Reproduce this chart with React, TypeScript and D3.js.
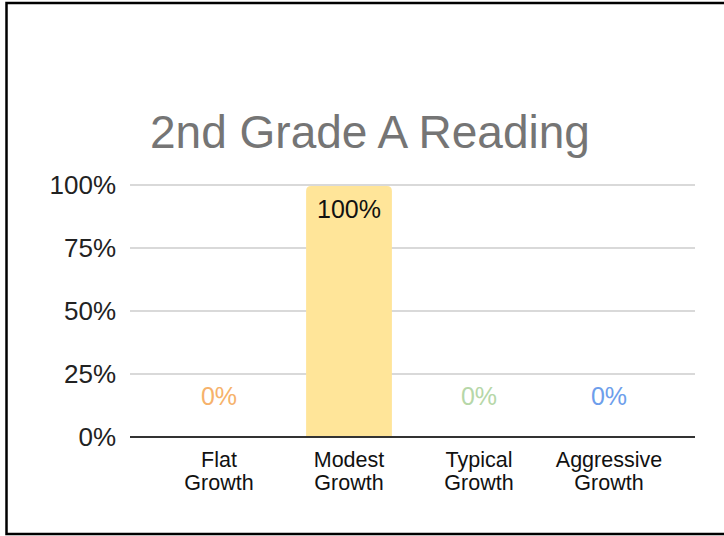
import React from "react";
import * as d3 from "d3";

const title = "2nd Grade A Reading";
const categories = ["Flat Growth", "Modest Growth", "Typical Growth", "Aggressive Growth"];
const values = [0, 100, 0, 0];
const colors = ["#F6B26B", "#FFE599", "#B6D7A8", "#6D9EEB"];
const ticks = [0, 25, 50, 75, 100];

const W = 724;
const H = 536;
const font = "'Liberation Sans', Arial, sans-serif";

export default function App() {
  // scales fitted to the plot area of the picture
  const x = d3.scaleBand<string>().domain(categories).range([154, 674]).paddingInner(0.34).paddingOuter(0.17);
  const y = d3.scaleLinear().domain([0, 100]).range([437, 185]);

  const barPath = (x0: number, y0: number, w: number, y1: number, r: number) => {
    const p = d3.path();
    p.moveTo(x0, y1);
    p.lineTo(x0, y0 + r);
    p.quadraticCurveTo(x0, y0, x0 + r, y0);
    p.lineTo(x0 + w - r, y0);
    p.quadraticCurveTo(x0 + w, y0, x0 + w, y0 + r);
    p.lineTo(x0 + w, y1);
    p.closePath();
    return p.toString();
  };

  return (
    <svg width={W} height={H} style={{ position: "absolute", left: 0, top: 0, background: "#fff" }} fontFamily={font}>
      {/* frame around the screenshot */}
      <path d={`M${W},3 L6.5,3 L6.5,534 L${W},534`} fill="none" stroke="#000" strokeWidth={2.5} />

      <text x={150} y={148} fontSize={46} fill="#757575">{title}</text>

      {/* gridlines and tick labels */}
      {ticks.map((t) => (
        <g key={t}>
          {t !== 0 && <line x1={130} x2={695} y1={y(t)} y2={y(t)} stroke="#cccccc" strokeWidth={1.5} />}
          <text x={116} y={y(t)} dy="0.36em" fontSize={26} textAnchor="end" fill="#222">{t}%</text>
        </g>
      ))}

      {/* bars */}
      {categories.map((c, i) =>
        values[i] > 0 ? (
          <path key={c} d={barPath(x(c)!, y(values[i]) + 1, x.bandwidth(), y(0), 5)} fill={colors[i]} />
        ) : null
      )}

      {/* baseline */}
      <line x1={130} x2={695} y1={y(0)} y2={y(0)} stroke="#333" strokeWidth={2} />

      {/* data labels */}
      {categories.map((c, i) => {
        const cx = x(c)! + x.bandwidth() / 2;
        const inside = values[i] > 20;
        return (
          <text
            key={c}
            x={cx}
            y={inside ? y(values[i]) + 33 : y(values[i]) - 32}
            fontSize={25}
            textAnchor="middle"
            fill={inside ? "#111" : colors[i]}
          >
            {values[i]}%
          </text>
        );
      })}

      {/* category labels */}
      {categories.map((c) => {
        const cx = x(c)! + x.bandwidth() / 2;
        const parts = c.split(" ");
        return (
          <text key={c} x={cx} y={467} fontSize={21.5} textAnchor="middle" fill="#111">
            {parts.map((p, j) => (
              <tspan key={j} x={cx} dy={j === 0 ? 0 : 23}>{p}</tspan>
            ))}
          </text>
        );
      })}
    </svg>
  );
}
